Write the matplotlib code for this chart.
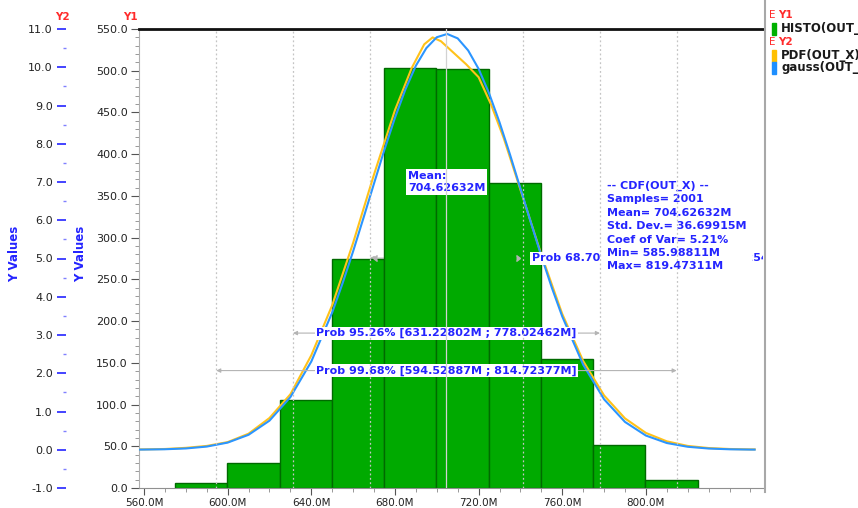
import numpy as np
import matplotlib
matplotlib.use("Agg")
import matplotlib.pyplot as plt
from matplotlib.ticker import MultipleLocator, FixedLocator, FuncFormatter
from matplotlib.patches import Rectangle
from matplotlib.lines import Line2D

# Monte Carlo result for OUT_X (values shown with an "M" suffix)
bin_edges = [574.8, 599.8, 624.8, 649.8, 674.8, 699.8, 724.8, 749.8, 774.8, 799.8, 824.8]
hist_counts = [6, 30, 105, 274, 503, 502, 366, 154, 51, 10]

# fitted normal density (Y2 axis)
gauss_x = [558, 560, 570, 580, 590, 600, 610, 620, 630, 640, 650, 655, 660, 665, 670,
           675, 680, 685, 690, 695, 700, 705, 710, 715, 720, 725, 730, 735, 740, 745,
           750, 755, 760, 770, 780, 790, 800, 810, 820, 830, 840, 850, 852]
gauss_y = [0.004, 0.005, 0.013, 0.034, 0.083, 0.187, 0.391, 0.761, 1.376, 2.307, 3.590,
           4.36, 5.189, 6.07, 6.964, 7.85, 8.679, 9.42, 10.04, 10.50, 10.785, 10.87,
           10.755, 10.44, 9.958, 9.32, 8.561, 7.72, 6.831, 5.94, 5.064, 4.24, 3.484,
           2.225, 1.319, 0.727, 0.371, 0.176, 0.078, 0.032, 0.012, 0.004, 0.0035]

# estimated density (Y2 axis)
pdf_x = [558, 560, 570, 580, 590, 600, 610, 620, 630, 640, 650, 660, 670, 680, 688,
         694, 698, 702, 708, 714, 720, 726, 732, 740, 750, 760, 770, 780, 790, 800,
         810, 820, 830, 840, 850, 852]
pdf_y = [0.01, 0.01, 0.02, 0.05, 0.10, 0.20, 0.42, 0.83, 1.45, 2.47, 3.78, 5.41, 7.20,
         8.88, 9.98, 10.60, 10.78, 10.68, 10.38, 10.08, 9.74, 9.02, 8.15, 6.80, 5.10,
         3.55, 2.32, 1.42, 0.82, 0.44, 0.22, 0.10, 0.045, 0.02, 0.01, 0.01]

n_samples = 2001
mean_val = 704.62632
std_val = 36.69915
coef_var = 5.21
min_val = 585.98811
max_val = 819.47311

prob_pct = [68.70, 95.26, 99.68]
prob_lo = [667.92717, 631.22802, 594.52887]
prob_hi = [741.32547, 778.02462, 814.72377]

x_ticks = [560, 600, 640, 680, 720, 760, 800]

W, H = 858, 508
BLUE = "#2424ff"
RED = "#ff2a2a"


def fx(px):
    return px / W


def fy(py):
    return 1 - py / H


fig = plt.figure(figsize=(W / 100, H / 100), dpi=100)
fig.patch.set_facecolor("white")
ax = fig.add_axes([fx(139), 20 / H, 624 / W, 459 / H])
ax2 = ax.twinx()

ax.set_xlim(557.6, 856.0)
ax.set_ylim(0, 550)
ax2.set_ylim(-1, 11)

# histogram
ax.bar(bin_edges[:-1], hist_counts, width=np.diff(bin_edges), align="edge",
       color="#00aa00", edgecolor="#006a00", linewidth=1.0, zorder=1)

# curves
ax2.plot(pdf_x, pdf_y, color="#ffc21a", lw=1.5, zorder=3)
ax2.plot(gauss_x, gauss_y, color="#2b95ff", lw=1.5, zorder=3)

# sigma markers and mean line
for v in prob_lo + prob_hi:
    ax2.axvline(v, color="#c4c4c4", ls=(0, (1.5, 2)), lw=0.9, zorder=8)
ax2.axvline(mean_val, color="#d2d2d2", lw=0.9, zorder=8)

# probability bands
band_y = [5.01, 3.05, 2.07]
arrow_kw = dict(arrowstyle="<|-|>", color="#b4b4b4", lw=0.8, mutation_scale=6,
                shrinkA=0, shrinkB=0)
for i, (p, lo, hi, yb) in enumerate(zip(prob_pct, prob_lo, prob_hi, band_y)):
    label = f"Prob {p:.2f}% [{lo:.5f}M ; {hi:.5f}M]"
    box = dict(boxstyle="square,pad=0.12", fc="white", ec="none")
    if i == 0:
        # 1-sigma band runs behind the bars, only its heads show
        ax.annotate("", xy=(lo, yb), xytext=(hi, yb), xycoords=ax2.transData,
                    textcoords=ax2.transData, arrowprops=arrow_kw, zorder=0.5)
        ax2.plot([lo + 1.5], [yb], marker=4, ms=4, color="#b4b4b4", zorder=4)
        ax2.plot([hi - 1.5], [yb], marker=5, ms=4, color="#b4b4b4", zorder=4)
        ax2.text(hi + 4, yb, label, ha="left", va="center", fontsize=8,
                 fontweight="bold", color=BLUE, bbox=box, zorder=5, clip_on=True)
    else:
        ax2.annotate("", xy=(lo, yb), xytext=(hi, yb), arrowprops=arrow_kw, zorder=4)
        ax2.text(mean_val, yb, label, ha="center", va="center", fontsize=8,
                 fontweight="bold", color=BLUE, bbox=box, zorder=5)

ax2.text(mean_val, 7.0, f"Mean:\n{mean_val:.5f}M", ha="center", va="center",
         multialignment="left", fontsize=8, fontweight="bold", color=BLUE,
         linespacing=1.2,
         bbox=dict(boxstyle="square,pad=0.2", fc="white", ec="none"), zorder=6)

stats_text = "\n".join([
    "-- CDF(OUT_X) --",
    f"Samples= {n_samples}",
    f"Mean= {mean_val:.5f}M",
    f"Std. Dev.= {std_val:.5f}M",
    f"Coef of Var= {coef_var:.2f}%",
    f"Min= {min_val:.5f}M",
    f"Max= {max_val:.5f}M",
])
ax2.text(781.4, 7.03, stats_text, ha="left", va="top", fontsize=8,
         fontweight="bold", color=BLUE, linespacing=1.42,
         bbox=dict(boxstyle="square,pad=0.5", fc="white", ec="none"), zorder=6)

# spines
ax.spines["top"].set_color("#111111")
ax.spines["top"].set_linewidth(2)
ax.spines["left"].set_color("#b0b0b0")
ax.spines["bottom"].set_color("#909090")
ax.spines["right"].set_visible(False)
for s in ["top", "right", "bottom"]:
    ax2.spines[s].set_visible(False)
ax2.yaxis.tick_left()
ax2.yaxis.set_label_position("left")
ax2.spines["left"].set_position(("axes", (66 - 139) / 624))
ax2.spines["left"].set_color("none")

# Y1 axis
ax.yaxis.set_major_locator(MultipleLocator(50))
ax.yaxis.set_minor_locator(MultipleLocator(10))
ax.yaxis.set_major_formatter(FuncFormatter(lambda v, _: f"{v:.1f}"))
ax.tick_params(axis="y", which="major", length=6, width=0.8, color="#555555",
               labelsize=8, labelcolor="#222222", pad=2)
ax.tick_params(axis="y", which="minor", length=3, width=0.6, color="#888888")

# Y2 axis
ax2.yaxis.set_major_locator(MultipleLocator(1))
ax2.yaxis.set_minor_locator(MultipleLocator(0.5))
ax2.yaxis.set_major_formatter(FuncFormatter(lambda v, _: f"{v:.1f}"))
ax2.tick_params(axis="y", which="major", length=6.5, width=1.2, color=BLUE,
                labelsize=8, labelcolor="#222222", pad=3)
ax2.tick_params(axis="y", which="minor", length=2.2, width=1.0, color="#8080ff")

# X axis
ax.xaxis.set_major_locator(FixedLocator(x_ticks))
ax.xaxis.set_minor_locator(MultipleLocator(10))
ax.xaxis.set_major_formatter(FuncFormatter(lambda v, _: f"{v:.1f}M"))
ax.tick_params(axis="x", which="major", length=5, width=0.8, color="#555555",
               labelsize=7.5, labelcolor="#222222", pad=2)
ax.tick_params(axis="x", which="minor", length=3, width=0.6, color="#888888")

ax.set_ylabel("Y Values", color=BLUE, fontsize=8.5, fontweight="bold")
ax.yaxis.set_label_coords((87 - 139) / 624, 0.51)
ax2.set_ylabel("Y Values", color=BLUE, fontsize=8.5, fontweight="bold")
ax2.yaxis.set_label_coords((21 - 139) / 624, 0.51)

fig.text(fx(62), fy(17), "Y2", color=RED, fontsize=7.5, fontweight="bold",
         ha="center", va="center")
fig.text(fx(130), fy(17), "Y1", color=RED, fontsize=7.5, fontweight="bold",
         ha="center", va="center")

# legend panel
fig.add_artist(Line2D([fx(765), fx(765)], [fy(492), 1], transform=fig.transFigure,
                      color="#a8a8a8", lw=1.5))
legend_rows = [
    ("group", "Y1", 15),
    ("#00b000", "HISTO(OUT_X)", 28.5),
    ("group", "Y2", 42),
    ("#ffc000", "PDF(OUT_X)", 55.5),
    ("#1e8fff", "gauss(OUT_X)", 68),
]
for color, name, py in legend_rows:
    if color == "group":
        fig.text(fx(769), fy(py), "E", color=RED, fontsize=7.5, va="center")
        fig.text(fx(778), fy(py), name, color=RED, fontsize=7.5, fontweight="bold",
                 va="center")
    else:
        fig.add_artist(Rectangle((fx(772), fy(py + 6)), 4 / W, 12 / H,
                                 transform=fig.transFigure, color=color))
        fig.text(fx(781), fy(py), name, color="#1a1a1a", fontsize=8.5,
                 fontweight="bold", va="center")

fig.savefig("out.png", dpi=100)
